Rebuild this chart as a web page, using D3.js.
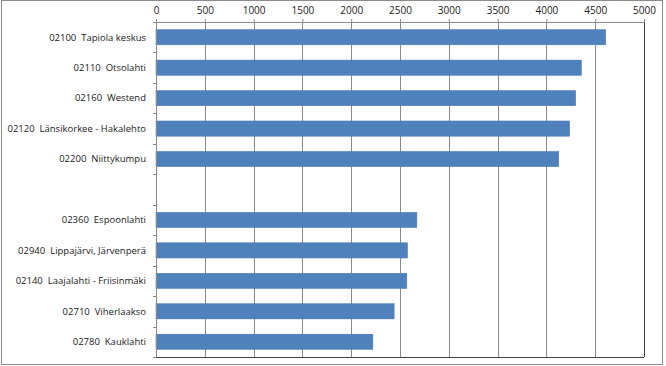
<!DOCTYPE html>
<html>
<head>
  <meta charset="utf-8">
  <title>Postinumeroalueet</title>
  <style>
    body { margin: 0; background: #ffffff; }
    text { font-family: "Open Sans", "Liberation Sans", sans-serif; fill: #1a1a1a; }
  </style>
</head>
<body>
  <div id="chart"></div>

  <script src="https://cdn.jsdelivr.net/npm/d3@7/dist/d3.min.js"></script>
  <script>
    // areas, top to bottom (empty entry = gap row)
    let areas = [
      '02100  Tapiola keskus',
      '02110  Otsolahti',
      '02160  Westend',
      '02120  Länsikorkee - Hakalehto',
      '02200  Niittykumpu',
      '',
      '02360  Espoonlahti',
      '02940  Lippajärvi, Järvenperä',
      '02140  Laajalahti - Friisinmäki',
      '02710  Viherlaakso',
      '02780  Kauklahti'
    ];
    let values = [4608, 4359, 4300, 4239, 4127, null, 2673, 2577, 2570, 2440, 2222];
    let ticks = [0, 500, 1000, 1500, 2000, 2500, 3000, 3500, 4000, 4500, 5000];

    function translate(x, y) {
      return 'translate(' + x + ',' + y + ')';
    }

    let svgWidth = 666;
    let svgHeight = 366;
    let margin = {top: 22, right: 22, bottom: 9, left: 156};
    let width = 644 - margin.left;
    let height = 357 - margin.top;

    let svg = d3.select('#chart')
      .append('svg')
        .attr('width', svgWidth)
        .attr('height', svgHeight);

    // outer chart frame
    svg.append('rect')
      .attr('x', 1.5).attr('y', 0.5)
      .attr('width', 661).attr('height', 364)
      .attr('fill', '#ffffff')
      .attr('stroke', '#8c8c8c');

    let g = svg.append('g').attr('transform', translate(margin.left, margin.top));

    let rows = areas.map((a, i) => ({key: i, label: a, value: values[i]}));

    let y = d3.scaleBand()
      .domain(rows.map(d => d.key))
      .range([0, height])
      .paddingInner(0.5)
      .paddingOuter(0.25);

    let x = d3.scaleLinear()
      .domain([0, 5000])
      .range([0, width]);

    // gridlines
    g.selectAll('line.grid')
      .data(ticks.slice(1))
      .enter()
        .append('line')
        .attr('class', 'grid')
        .attr('x1', d => Math.round(x(d)) + 0.5)
        .attr('x2', d => Math.round(x(d)) + 0.5)
        .attr('y1', 0)
        .attr('y2', height)
        .attr('stroke', d => d === 5000 ? '#404040' : '#8a8a8a')
        .attr('stroke-width', 1);

    // bottom border of plot area
    g.append('line')
      .attr('x1', 0).attr('x2', width)
      .attr('y1', height + 0.5).attr('y2', height + 0.5)
      .attr('stroke', '#404040');

    // bars
    g.selectAll('rect.bar')
      .data(rows.filter(d => d.value != null))
      .enter()
        .append('rect')
        .attr('class', 'bar')
        .attr('x', 0)
        .attr('y', d => y(d.key))
        .attr('width', d => x(d.value))
        .attr('height', y.bandwidth())
        .attr('fill', '#4f81bd')
        .attr('stroke', '#4a7ab4')
        .attr('stroke-width', 0.5);

    // top value axis
    let xAxis = d3.axisTop(x).tickValues(ticks).tickSize(3).tickPadding(5).tickFormat(d3.format('d'));
    let xg = g.append('g').call(xAxis);
    xg.select('.domain').attr('stroke', '#8a8a8a');
    xg.selectAll('.tick line').attr('stroke', '#8a8a8a');
    xg.selectAll('text').style('font-size', '10px');

    // left category axis with ticks between rows
    let step = y.step();
    let lg = g.append('g');
    lg.append('line')
      .attr('x1', 0.5).attr('x2', 0.5)
      .attr('y1', 0).attr('y2', height)
      .attr('stroke', '#8a8a8a');
    lg.selectAll('line.cat')
      .data(d3.range(rows.length + 1))
      .enter()
        .append('line')
        .attr('x1', -3).attr('x2', 0)
        .attr('y1', i => Math.round(i * height / rows.length) + 0.5)
        .attr('y2', i => Math.round(i * height / rows.length) + 0.5)
        .attr('stroke', '#8a8a8a');
    lg.selectAll('text')
      .data(rows)
      .enter()
        .append('text')
        .attr('x', -10)
        .attr('y', d => y(d.key) + y.bandwidth() / 2)
        .attr('dy', '0.35em')
        .attr('text-anchor', 'end')
        .style('font-size', '9.5px')
        .style('white-space', 'pre')
        .text(d => d.label);
  </script>
</body>
</html>
